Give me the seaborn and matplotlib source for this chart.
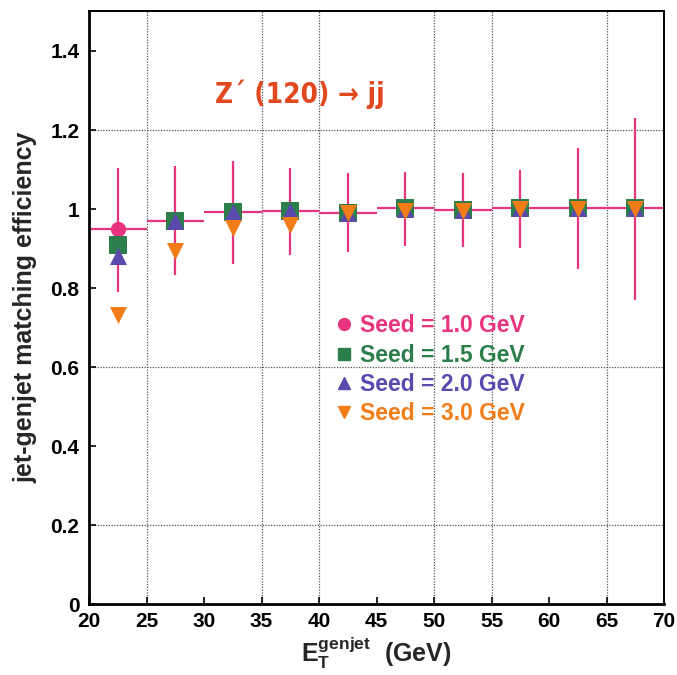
import numpy as np
import pandas as pd
import matplotlib
matplotlib.use("Agg")
import matplotlib.pyplot as plt
from matplotlib.ticker import MultipleLocator
from matplotlib.lines import Line2D
import seaborn as sns

# Generated-jet ET bins (GeV)
bin_low = [20, 25, 30, 35, 40, 45, 50, 55, 60, 65]
bin_high = [25, 30, 35, 40, 45, 50, 55, 60, 65, 70]
bin_center = [22.5, 27.5, 32.5, 37.5, 42.5, 47.5, 52.5, 57.5, 62.5, 67.5]

# Matching efficiency per seed threshold
eff_seed10 = [0.949, 0.970, 0.992, 0.995, 0.991, 1.002, 0.997, 1.002, 1.002, 1.002]
err_hi_seed10 = [1.103, 1.110, 1.121, 1.105, 1.090, 1.093, 1.090, 1.099, 1.155, 1.230]
err_lo_seed10 = [0.791, 0.833, 0.862, 0.884, 0.892, 0.907, 0.903, 0.902, 0.847, 0.770]
eff_seed15 = [0.909, 0.970, 0.993, 0.996, 0.991, 1.002, 0.998, 1.002, 1.002, 1.002]
eff_seed20 = [0.881, 0.970, 0.992, 0.995, 0.991, 1.001, 0.997, 1.002, 1.002, 1.002]
eff_seed30 = [0.733, 0.894, 0.953, 0.959, 0.989, 0.995, 0.995, 1.000, 1.000, 1.000]

seed_labels = ["Seed = 1.0 GeV", "Seed = 1.5 GeV", "Seed = 2.0 GeV", "Seed = 3.0 GeV"]
seed_colors = ["#E8337F", "#2C7F4A", "#5A4AAE", "#F07D18"]
seed_markers = ["o", "s", "^", "v"]
seed_sizes = [120, 150, 150, 150]

x_ticks = [20, 25, 30, 35, 40, 45, 50, 55, 60, 65, 70]
y_ticks = [0, 0.2, 0.4, 0.6, 0.8, 1.0, 1.2, 1.4]
y_tick_labels = ["0", "0.2", "0.4", "0.6", "0.8", "1", "1.2", "1.4"]
x_grid = [25, 35, 40, 50, 55, 65]
y_grid = [0.2, 0.6, 1.2]

sns.set_theme(style="white")
plt.rcParams["font.family"] = ["Liberation Sans", "DejaVu Sans"]
plt.rcParams["mathtext.fontset"] = "custom"
plt.rcParams["mathtext.rm"] = "Liberation Sans:bold"
plt.rcParams["mathtext.it"] = "Liberation Sans:bold"

fig = plt.figure(figsize=(6.77, 6.75), dpi=100)
ax = fig.add_axes([0.1315, 0.105, 0.8495, 0.878])

for g in x_grid:
    ax.axvline(g, color="#555555", lw=0.9, ls=(0, (1, 1.2)), zorder=0)
for g in y_grid:
    ax.axhline(g, color="#555555", lw=0.9, ls=(0, (1, 1.2)), zorder=0)

pink = seed_colors[0]
ax.hlines(eff_seed10, bin_low, bin_high, color=pink, lw=1.6, zorder=2)
ax.vlines(bin_center, err_lo_seed10, err_hi_seed10, color=pink, lw=1.6, zorder=2)

series = [eff_seed10, eff_seed15, eff_seed20, eff_seed30]
frames = []
for lab, vals in zip(seed_labels, series):
    frames.append(pd.DataFrame({"et": bin_center, "eff": vals, "seed": lab}))
df = pd.concat(frames, ignore_index=True)

for i, lab in enumerate(seed_labels):
    sub = df[df["seed"] == lab]
    sns.scatterplot(data=sub, x="et", y="eff", ax=ax, color=seed_colors[i],
                    marker=seed_markers[i], s=seed_sizes[i], linewidth=0,
                    zorder=3 + i, legend=False)

handles = [Line2D([], [], ls="none", marker=m, color=c, markersize=8.5)
           for m, c in zip(seed_markers, seed_colors)]
leg = ax.legend(handles, seed_labels, loc="upper left", bbox_to_anchor=(0.384, 0.524),
                frameon=False, handletextpad=0.1, handlelength=1.2,
                labelspacing=0.28, prop={"size": 16.5, "weight": "bold"})
for txt, c in zip(leg.get_texts(), seed_colors):
    txt.set_color(c)

ax.text(0.219, 0.86, "Z\u00b4 (120) \u2192 jj", transform=ax.transAxes,
        color="#E2481E", fontsize=20, fontweight="bold", va="center", ha="left",
        family=["DejaVu Sans"], fontstretch="condensed")

ax.set_xlim(20, 70)
ax.set_ylim(0, 1.5)
ax.set_xticks(x_ticks)
ax.set_yticks(y_ticks)
ax.set_yticklabels(y_tick_labels)
ax.xaxis.set_minor_locator(MultipleLocator(1))
ax.yaxis.set_minor_locator(MultipleLocator(0.1))
ax.tick_params(axis="both", which="major", direction="in", length=5, width=1.2,
               labelsize=15, colors="black")
ax.tick_params(axis="x", which="major", pad=6)
ax.tick_params(axis="y", which="major", pad=7)
ax.tick_params(axis="both", which="minor", direction="in", length=3, width=1.0)
ax.tick_params(axis="x", bottom=True)
ax.tick_params(axis="y", left=True)
for t in ax.get_xticklabels() + ax.get_yticklabels():
    t.set_fontweight("bold")

for side, sp in ax.spines.items():
    sp.set_color("black")
    sp.set_linewidth(2.0 if side in ("left", "bottom") else 1.4)

ax.set_ylabel("jet-genjet matching efficiency", fontsize=18, fontweight="bold", labelpad=9)
ax.set_xlabel(r"$\mathregular{E_T^{genjet}}$  (GeV)", fontsize=18, fontweight="bold", labelpad=2)

fig.savefig("out.png", dpi=100)
